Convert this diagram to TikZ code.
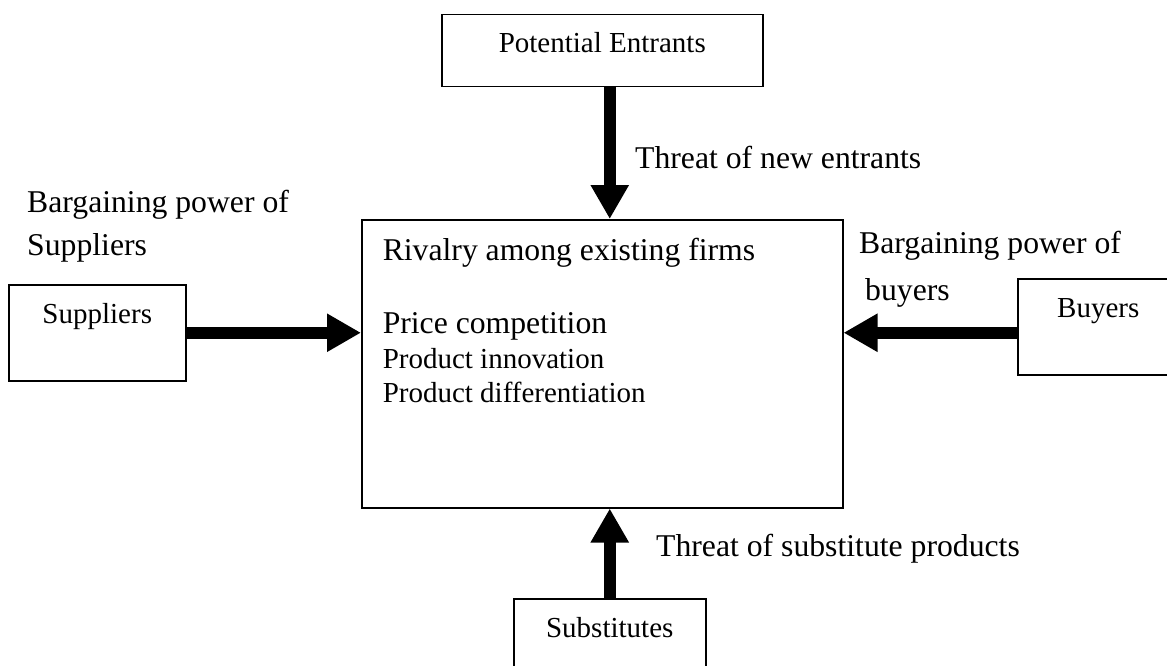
\documentclass[tikz,border=0pt]{standalone}
\usepackage{fontspec}
\setmainfont{Liberation Serif}
\usetikzlibrary{arrows.meta}

% fixed-height line inside the rivalry box
\newcommand\rivline[2]{\hbox to 481pt{\hspace*{21pt}\rule{0pt}{#1}\smash{#2}\hfil}}
\newcommand\bigtext{\fontsize{31.7pt}{38pt}\selectfont}
\newcommand\smalltext{\fontsize{29pt}{35pt}\selectfont}

\begin{document}
\begin{tikzpicture}[x=1pt, y=-1pt,
  forcebox/.style={draw, line width=1.5pt, rectangle, inner sep=0pt,
    anchor=north west, font=\smalltext},
  sidebox/.style={forcebox, text height=39pt, text depth=57pt},
  label/.style={inner sep=0pt, anchor=base west, font=\bigtext, align=left},
  force/.style={line width=12pt, -{Triangle[length=34pt, width=36pt]}}
]
\useasboundingbox (0,0) rectangle (1167,666);
\clip (0,0) rectangle (1167,666);

% the five forces
\node[forcebox, text height=38pt, text depth=34pt, minimum width=321pt]
  (ent) at (441,14) {Potential Entrants};
\node[sidebox, minimum width=177pt] (sup) at (8,284) {Suppliers};
\node[sidebox, minimum width=161pt] (buy) at (1017,278) {Buyers};
\node[sidebox, minimum width=192pt] (sub) at (513,598) {Substitutes};

% central box: industry rivalry
\node[forcebox, minimum width=481pt, minimum height=288pt] (riv) at (361,219)
  {\vbox to 288pt{\offinterlineskip
    \rivline{41pt}{\bigtext Rivalry among existing firms}
    \rivline{73pt}{\bigtext Price competition}
    \rivline{35pt}{\smalltext Product innovation}
    \rivline{34pt}{\smalltext Product differentiation}
    \vfil}};

% forces acting on the industry
\draw[force] (ent.south -| sub.north) -- (riv.north -| sub.north);
\draw[force] (sub.north) -- (sub.north |- riv.south);
\draw[force] (sup.east) -- (sup.east -| riv.west);
\draw[force] (sup.east -| buy.west) -- (sup.east -| riv.east);

% labels of the forces (base anchor sits on the last line)
\node[label] (lent) at (635,168) {Threat of new entrants};
\node[label] (lsub) at (656,556) {Threat of substitute products};
\node[label, font=\fontsize{31.7pt}{43pt}\selectfont] (lsup) at (27,255)
  {Bargaining power of\\Suppliers};
\node[label, font=\fontsize{31.7pt}{47pt}\selectfont] (lbuy) at (859,300)
  {Bargaining power of\\\hspace*{6pt}buyers};
\end{tikzpicture}
\end{document}
